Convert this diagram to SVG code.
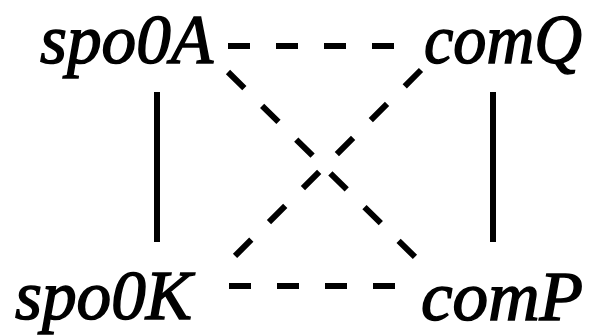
<svg xmlns="http://www.w3.org/2000/svg" width="593" height="336" viewBox="0 0 593 336">
<style>
.lbl{font-family:"Liberation Serif","Times New Roman",serif;font-style:italic;font-weight:normal;font-size:70px;fill:#000;stroke:#000;stroke-width:1.5}
.solid{stroke:#000;stroke-width:6;fill:none}
.dash{stroke:#000;stroke-width:6;fill:none;stroke-dasharray:22 26}
.ddash{stroke:#000;stroke-width:6;fill:none;stroke-dasharray:23 25}
</style>
<rect width="593" height="336" fill="#fff"/>
<g id="connectors">
<line class="dash" x1="228" y1="46" x2="396" y2="46"/>
<line class="dash" x1="229" y1="286" x2="397" y2="286"/>
<line class="solid" x1="157" y1="92" x2="157" y2="242"/>
<line class="solid" x1="493" y1="92" x2="493" y2="242"/>
<line class="ddash" x1="228" y1="72" x2="418" y2="260"/>
<line class="ddash" x1="421" y1="70" x2="231" y2="260"/>
</g>
<g id="spo0A"><text class="lbl" x="40" y="63" textLength="173" lengthAdjust="spacingAndGlyphs">spo0A</text></g>
<g id="comQ"><text class="lbl" x="424" y="63" textLength="158" lengthAdjust="spacingAndGlyphs">comQ</text></g>
<g id="spo0K"><text class="lbl" x="15" y="319" textLength="177" lengthAdjust="spacingAndGlyphs">spo0K</text></g>
<g id="comP"><text class="lbl" x="421" y="320" textLength="162" lengthAdjust="spacingAndGlyphs">comP</text></g>
</svg>
